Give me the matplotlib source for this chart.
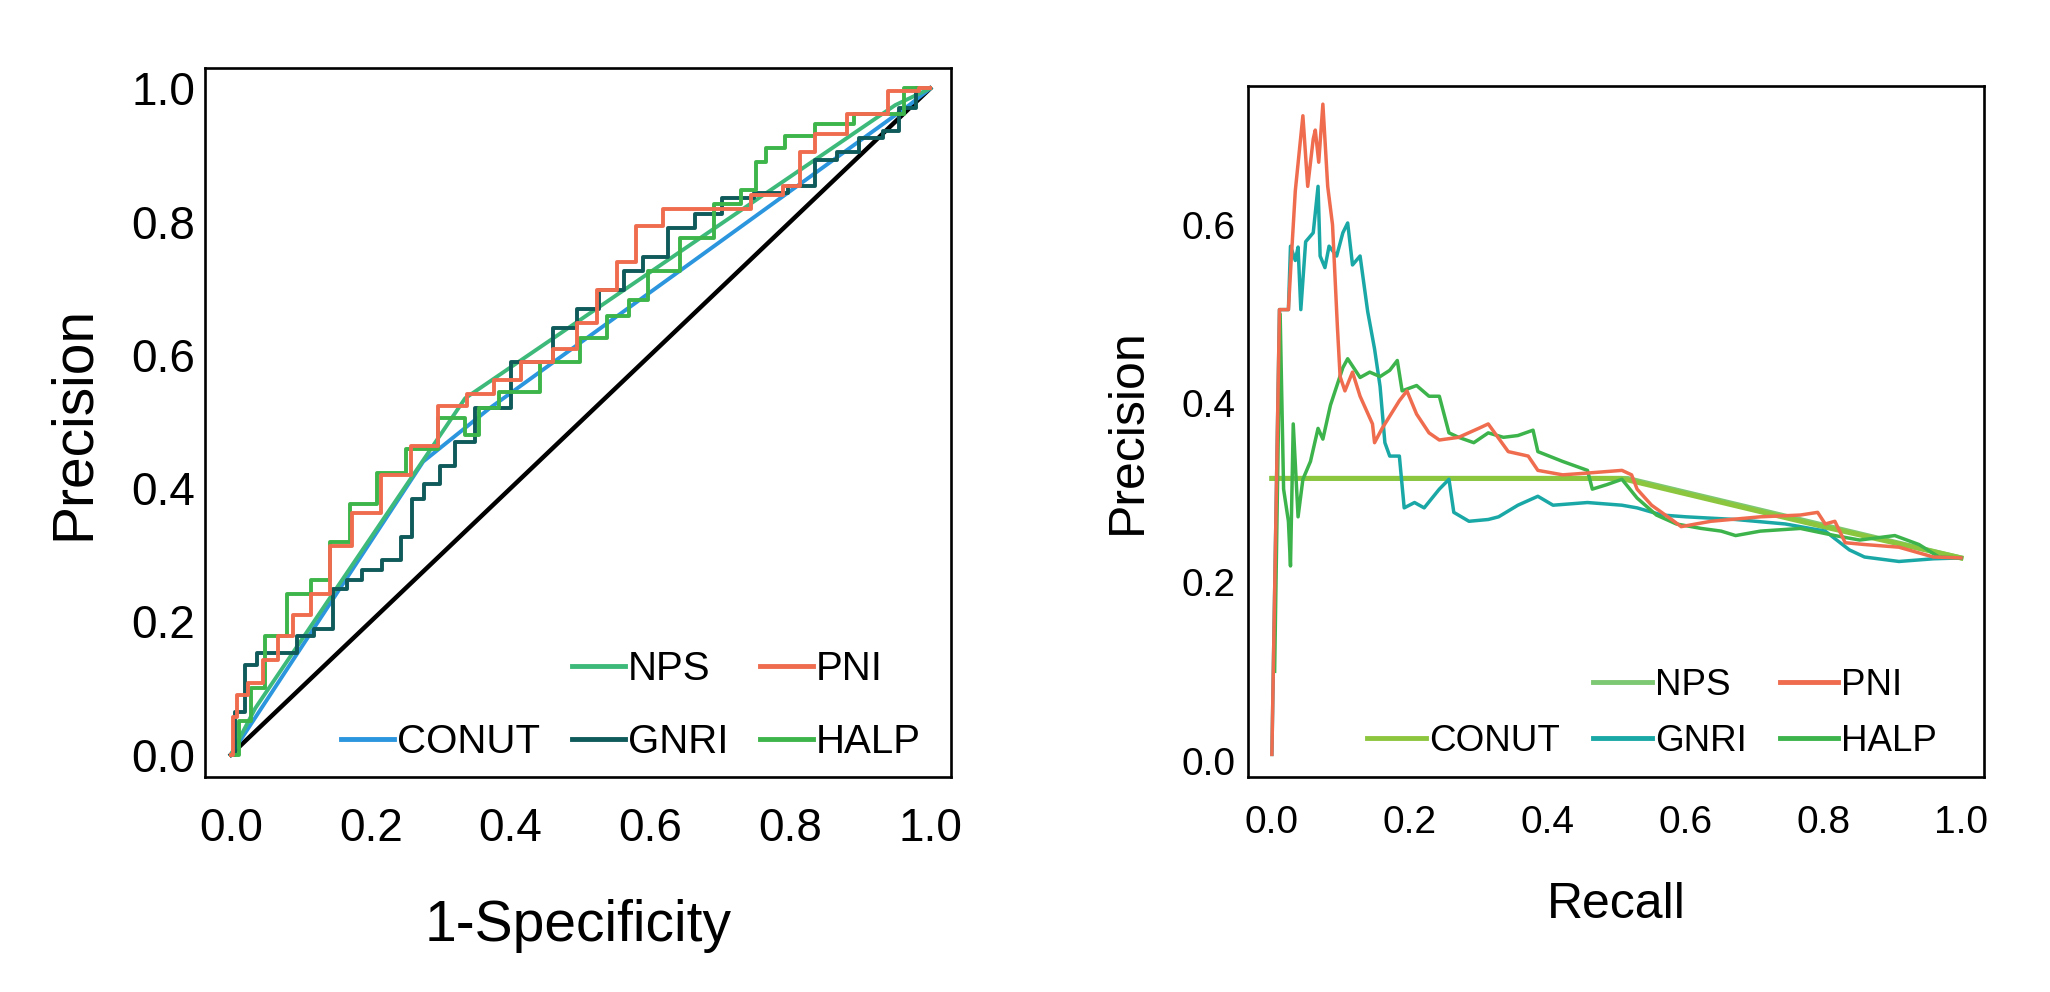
import numpy as np
import matplotlib
matplotlib.use("Agg")
import matplotlib.pyplot as plt
from matplotlib.lines import Line2D

plt.rcParams['font.family'] = ['Liberation Sans', 'DejaVu Sans']

# ---- ROC (left panel) ----
roc_conut_x = [0.0, 0.275, 0.37, 0.97, 1.0]
roc_conut_y = [0.0, 0.44, 0.52, 0.975, 1.0]

roc_nps_x = [0.0, 0.035, 0.335, 0.95, 1.0]
roc_nps_y = [0.0, 0.07, 0.535, 0.975, 1.0]

roc_pni_x = [0.0, 0.005, 0.012, 0.036, 0.057, 0.078, 0.10, 0.128, 0.156, 0.19, 0.24, 0.275,
             0.317, 0.359, 0.394, 0.436, 0.485, 0.506, 0.541, 0.562, 0.597, 0.639, 0.716,
             0.772, 0.807, 0.821, 0.849, 0.912, 0.968, 1.0]
roc_pni_y = [0.0, 0.057, 0.089, 0.107, 0.142, 0.178, 0.21, 0.242, 0.313, 0.363, 0.42, 0.463,
             0.523, 0.541, 0.562, 0.59, 0.609, 0.648, 0.698, 0.74, 0.794, 0.819, 0.819,
             0.84, 0.854, 0.904, 0.932, 0.961, 0.996, 1.0]

roc_gnri_x = [0.0, 0.012, 0.029, 0.047, 0.085, 0.103, 0.135, 0.156, 0.177, 0.198, 0.233, 0.254,
              0.264, 0.289, 0.31, 0.331, 0.366, 0.436, 0.485, 0.506, 0.548, 0.576, 0.604,
              0.646, 0.681, 0.723, 0.772, 0.821, 0.849, 0.884, 0.912, 0.954, 0.958, 1.0]
roc_gnri_y = [0.0, 0.064, 0.135, 0.153, 0.153, 0.178, 0.189, 0.249, 0.263, 0.278, 0.292, 0.327,
              0.384, 0.406, 0.434, 0.47, 0.52, 0.59, 0.64, 0.669, 0.698, 0.726, 0.747,
              0.79, 0.811, 0.836, 0.843, 0.854, 0.893, 0.904, 0.925, 0.936, 0.971, 1.0]

roc_halp_x = [0.0, 0.022, 0.036, 0.061, 0.10, 0.128, 0.156, 0.184, 0.233, 0.268, 0.324, 0.345,
              0.366, 0.40, 0.485, 0.513, 0.562, 0.576, 0.618, 0.667, 0.716, 0.744, 0.758,
              0.772, 0.814, 0.856, 0.926, 1.0]
roc_halp_y = [0.0, 0.05, 0.10, 0.178, 0.242, 0.263, 0.32, 0.377, 0.423, 0.459, 0.505, 0.48,
              0.52, 0.545, 0.59, 0.626, 0.658, 0.683, 0.726, 0.776, 0.826, 0.847, 0.89,
              0.911, 0.929, 0.947, 0.961, 1.0]

# ---- Precision-Recall (right panel) ----
pr_conut_x = [0.0, 0.507, 0.80, 1.0]
pr_conut_y = [0.316, 0.316, 0.262, 0.227]

pr_nps_x = [0.0, 0.516, 1.0]
pr_nps_y = [0.316, 0.316, 0.227]

pr_pni_x = [0.0, 0.011, 0.024, 0.028, 0.034, 0.045, 0.052, 0.060, 0.063, 0.068, 0.074, 0.081,
            0.088, 0.095, 0.099, 0.106, 0.117, 0.128, 0.146, 0.149, 0.16, 0.185, 0.196, 0.21,
            0.228, 0.243, 0.271, 0.3, 0.314, 0.343, 0.372, 0.386, 0.422, 0.458, 0.508, 0.522,
            0.53, 0.551, 0.58, 0.594, 0.637, 0.709, 0.767, 0.792, 0.803, 0.817, 0.832, 0.86,
            0.91, 0.96, 1.0]
pr_pni_y = [0.007, 0.505, 0.505, 0.56, 0.638, 0.722, 0.643, 0.696, 0.706, 0.67, 0.735, 0.643,
            0.6, 0.487, 0.43, 0.414, 0.435, 0.408, 0.377, 0.356, 0.372, 0.403, 0.414, 0.388,
            0.367, 0.359, 0.362, 0.372, 0.377, 0.346, 0.341, 0.325, 0.32, 0.322, 0.325, 0.32,
            0.304, 0.286, 0.27, 0.262, 0.268, 0.273, 0.275, 0.278, 0.265, 0.268, 0.244, 0.242,
            0.239, 0.228, 0.227]

pr_gnri_x = [0.0, 0.011, 0.024, 0.027, 0.034, 0.038, 0.042, 0.049, 0.06, 0.067, 0.07, 0.077,
             0.083, 0.094, 0.103, 0.11, 0.117, 0.128, 0.139, 0.149, 0.157, 0.164, 0.171, 0.185,
             0.192, 0.207, 0.221, 0.243, 0.257, 0.264, 0.286, 0.314, 0.329, 0.357, 0.386,
             0.408, 0.458, 0.508, 0.53, 0.566, 0.601, 0.673, 0.745, 0.803, 0.838, 0.86, 0.91,
             0.96, 1.0]
pr_gnri_y = [0.007, 0.505, 0.505, 0.576, 0.56, 0.575, 0.505, 0.581, 0.591, 0.643, 0.565, 0.552,
             0.576, 0.565, 0.591, 0.602, 0.555, 0.565, 0.503, 0.461, 0.419, 0.356, 0.341, 0.341,
             0.283, 0.289, 0.283, 0.304, 0.315, 0.278, 0.268, 0.27, 0.273, 0.286, 0.296,
             0.286, 0.289, 0.286, 0.283, 0.275, 0.273, 0.27, 0.265, 0.257, 0.236, 0.228, 0.223,
             0.226, 0.227]

pr_halp_x = [0.004, 0.012, 0.017, 0.024, 0.027, 0.031, 0.038, 0.045, 0.056, 0.067, 0.074, 0.085,
             0.103, 0.11, 0.128, 0.142, 0.157, 0.171, 0.182, 0.189, 0.21, 0.228, 0.243, 0.257,
             0.271, 0.293, 0.314, 0.336, 0.357, 0.379, 0.386, 0.422, 0.458, 0.465, 0.486,
             0.508, 0.53, 0.558, 0.587, 0.623, 0.652, 0.673, 0.709, 0.767, 0.817, 0.853,
             0.904, 0.939, 0.968, 1.0]
pr_halp_y = [0.1, 0.5, 0.304, 0.268, 0.218, 0.377, 0.273, 0.315, 0.335, 0.372, 0.36, 0.398,
             0.44, 0.45, 0.429, 0.435, 0.43, 0.437, 0.448, 0.414, 0.42, 0.408, 0.408, 0.367,
             0.362, 0.356, 0.367, 0.362, 0.364, 0.37, 0.346, 0.335, 0.325, 0.304, 0.309,
             0.315, 0.294, 0.275, 0.265, 0.26, 0.257, 0.252, 0.257, 0.26, 0.252, 0.247,
             0.252, 0.242, 0.228, 0.227]

labels = ['CONUT', 'NPS', 'GNRI', 'PNI', 'HALP']
roc_colors = {'CONUT': '#2b95de', 'NPS': '#3dba7a', 'GNRI': '#0f5a5a',
              'PNI': '#ef6c4f', 'HALP': '#3db54a'}
pr_colors = {'CONUT': '#8cc63f', 'NPS': '#7dc872', 'GNRI': '#1aa8a6',
             'PNI': '#ef6c4f', 'HALP': '#3cb44b'}

fig = plt.figure(figsize=(20.5, 9.92), dpi=100)
ax1 = fig.add_axes([0.100, 0.217, 0.364, 0.714])
ax2 = fig.add_axes([0.609, 0.217, 0.359, 0.696])

# left: ROC
ax1.plot([0, 1], [0, 1], color='black', lw=3.2)
ax1.plot(roc_conut_x, roc_conut_y, color=roc_colors['CONUT'], lw=2.8)
ax1.plot(roc_nps_x, roc_nps_y, color=roc_colors['NPS'], lw=2.8)
ax1.plot(roc_gnri_x, roc_gnri_y, color=roc_colors['GNRI'], lw=2.8, drawstyle='steps-mid')
ax1.plot(roc_halp_x, roc_halp_y, color=roc_colors['HALP'], lw=2.8, drawstyle='steps-mid')
ax1.plot(roc_pni_x, roc_pni_y, color=roc_colors['PNI'], lw=2.8, drawstyle='steps-mid')
ax1.set_xlim(-0.037, 1.03)
ax1.set_ylim(-0.033, 1.03)
ax1.set_xticks(np.arange(0, 1.01, 0.2))
ax1.set_yticks(np.arange(0, 1.01, 0.2))
ax1.tick_params(length=0, labelsize=33)
ax1.tick_params(axis='x', pad=22)
ax1.tick_params(axis='y', pad=7)
ax1.set_xlabel('1-Specificity', fontsize=41, labelpad=34)
ax1.set_ylabel('Precision', fontsize=41, labelpad=22)

# right: PR
ax2.plot(pr_nps_x, pr_nps_y, color=pr_colors['NPS'], lw=3.6)
ax2.plot(pr_conut_x, pr_conut_y, color=pr_colors['CONUT'], lw=3.6)
ax2.plot(pr_gnri_x, pr_gnri_y, color=pr_colors['GNRI'], lw=2.5)
ax2.plot(pr_halp_x, pr_halp_y, color=pr_colors['HALP'], lw=2.5)
ax2.plot(pr_pni_x, pr_pni_y, color=pr_colors['PNI'], lw=2.5)
ax2.set_xlim(-0.034, 1.034)
ax2.set_ylim(-0.018, 0.755)
ax2.set_xticks(np.arange(0, 1.01, 0.2))
ax2.set_yticks([0.0, 0.2, 0.4, 0.6])
ax2.tick_params(length=0, labelsize=28)
ax2.tick_params(axis='x', pad=20)
ax2.tick_params(axis='y', pad=9)
ax2.set_xlabel('Recall', fontsize=36, labelpad=30)
ax2.set_ylabel('Precision', fontsize=36, labelpad=22)

for ax in (ax1, ax2):
    for s in ax.spines.values():
        s.set_linewidth(1.9)


def add_legend(ax, colors, fs, hl, lsp, csp, anchor):
    blank = Line2D([], [], color='none')
    h = {k: Line2D([], [], color=colors[k], lw=3.5) for k in labels}
    order = [blank, h['CONUT'], h['NPS'], h['GNRI'], h['PNI'], h['HALP']]
    names = ['', 'CONUT', 'NPS', 'GNRI', 'PNI', 'HALP']
    ax.legend(order, names, ncol=3, loc='lower right', bbox_to_anchor=anchor,
              frameon=False, fontsize=fs, handlelength=hl, handletextpad=0.08,
              columnspacing=csp, labelspacing=lsp, borderaxespad=0)


add_legend(ax1, roc_colors, 29, 1.3, 0.85, 0.8, (0.981, 0.0))
add_legend(ax2, pr_colors, 26.5, 1.6, 0.55, 0.9, (0.956, 0.005))

fig.savefig('out.png', dpi=100)
